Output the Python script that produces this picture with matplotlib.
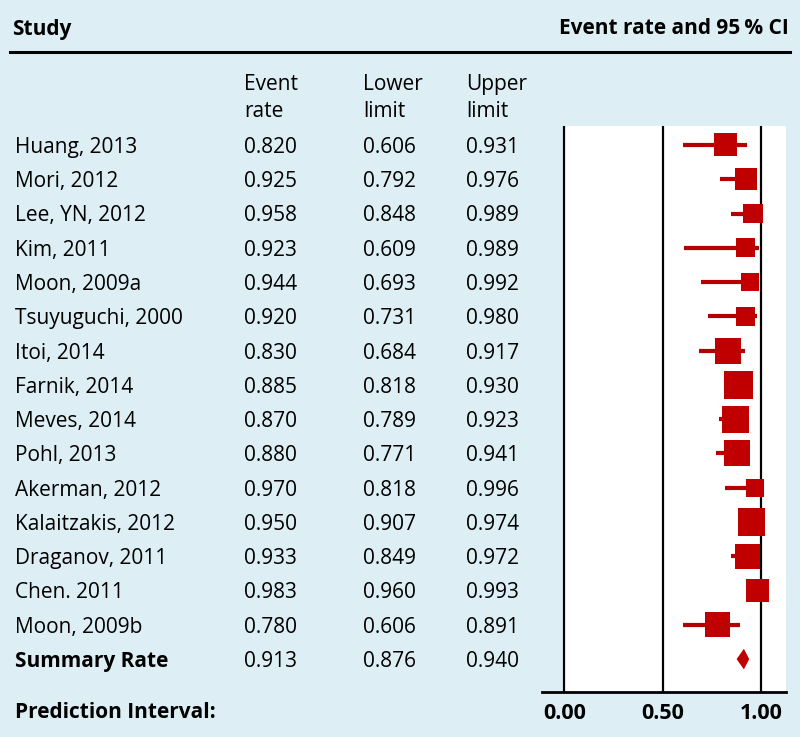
import numpy as np
import matplotlib.pyplot as plt
from matplotlib.transforms import blended_transform_factory
from matplotlib.patches import Polygon

studies = ["Huang, 2013", "Mori, 2012", "Lee, YN, 2012", "Kim, 2011", "Moon, 2009a",
           "Tsuyuguchi, 2000", "Itoi, 2014", "Farnik, 2014", "Meves, 2014", "Pohl, 2013",
           "Akerman, 2012", "Kalaitzakis, 2012", "Draganov, 2011", "Chen. 2011", "Moon, 2009b"]
rate = [0.820, 0.925, 0.958, 0.923, 0.944, 0.920, 0.830, 0.885, 0.870, 0.880,
        0.970, 0.950, 0.933, 0.983, 0.780]
lower = [0.606, 0.792, 0.848, 0.609, 0.693, 0.731, 0.684, 0.818, 0.789, 0.771,
         0.818, 0.907, 0.849, 0.960, 0.606]
upper = [0.931, 0.976, 0.989, 0.989, 0.992, 0.980, 0.917, 0.930, 0.923, 0.941,
         0.996, 0.974, 0.972, 0.993, 0.891]
# relative weights (%)
weight = [6.4, 5.9, 4.6, 4.4, 3.9, 4.6, 8.2, 9.9, 8.9, 8.2, 3.9, 8.9, 7.6, 6.7, 7.6]
summary = (0.913, 0.876, 0.940)
ticks = [0.0, 0.5, 1.0]

W, H = 800, 737
bg = "#ddeff4"
red = "#c00000"
fs = 15
dy = 0.07  # nudge text down so caps line up with the squares
plt.rcParams["font.family"] = ["Open Sans", "DejaVu Sans"]

fig = plt.figure(figsize=(W / 100, H / 100), dpi=100, facecolor=bg)
ax = fig.add_axes([542 / W, 1 - 692 / H, (786 - 542) / W, (692 - 126) / H], facecolor=bg)

n = len(studies)
y = np.arange(n)
ax.set_xlim(-0.113, 1.127)
ax.set_ylim(15.96, -0.554)
ax.axvspan(0, 1.127, color="white", zorder=0)
for t in ticks:
    ax.axvline(t, color="black", lw=1.6, zorder=1)

ax.hlines(y, lower, upper, color="#b40000", lw=3, zorder=2)
side = 9.1 * np.sqrt(weight) * 72 / 100
ax.scatter(rate, y, s=side ** 2, marker="s", color=red, linewidths=0, zorder=3)

m, lo, hi = summary
ax.add_patch(Polygon([[lo, n], [m, n - 0.3], [hi, n], [m, n + 0.3]],
                     closed=True, color=red, lw=0, zorder=3))

for s in ["top", "left", "right"]:
    ax.spines[s].set_visible(False)
ax.spines["bottom"].set_linewidth(2)
ax.set_yticks([])
ax.set_xticks(ticks, ["%.2f" % t for t in ticks], fontsize=15.5, fontweight="bold")
ax.tick_params(axis="x", length=0, pad=8)

# table text
tr = blended_transform_factory(fig.transFigure, ax.transData)
cols = [244 / W, 363 / W, 466 / W]
for i in range(n):
    ax.text(15 / W, i + dy, studies[i], transform=tr, va="center", fontsize=fs)
    for c, v in zip(cols, [rate[i], lower[i], upper[i]]):
        ax.text(c, i + dy, "%.3f" % v, transform=tr, va="center", fontsize=fs)
ax.text(15 / W, n + dy, "Summary Rate", transform=tr, va="center", fontsize=fs, fontweight="bold")
for c, v in zip(cols, summary):
    ax.text(c, n + dy, "%.3f" % v, transform=tr, va="center", fontsize=fs)

fig.text(15 / W, 1 - 713 / H, "Prediction Interval:", va="center", fontsize=fs, fontweight="bold")
fig.text(12 / W, 1 - 29 / H, "Study", va="center", fontsize=fs, fontweight="bold")
fig.text(789 / W, 1 - 29 / H, "Event rate and 95\u2009% CI", va="center", ha="right",
         fontsize=fs, fontweight="bold", family=["Open Sans", "DejaVu Sans"])
fig.add_artist(plt.Line2D([10 / W, 790 / W], [1 - 52 / H, 1 - 52 / H], color="black", lw=2.2))
for c, h in zip(cols, ["Event\nrate", "Lower\nlimit", "Upper\nlimit"]):
    fig.text(c, 1 - 98 / H, h, va="center", fontsize=fs, linespacing=1.35)

fig.savefig("out.png", dpi=100, facecolor=bg)
